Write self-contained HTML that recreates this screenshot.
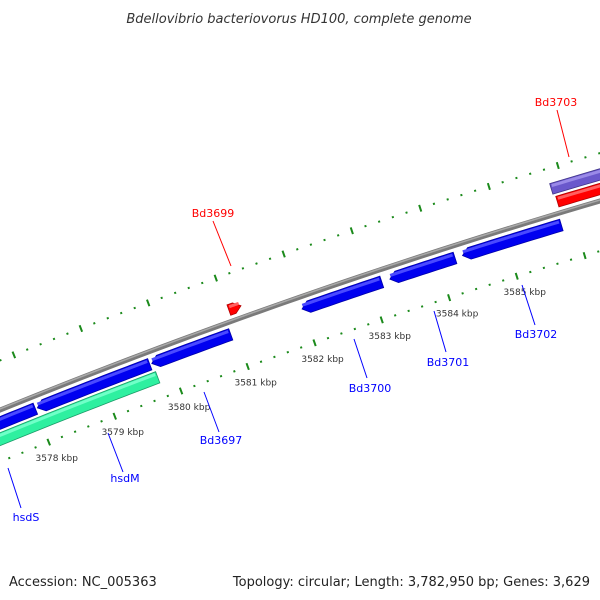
<!DOCTYPE html>
<html><head><meta charset="utf-8"><style>
html,body{margin:0;padding:0;background:#fff;}
svg{display:block;font-family:"DejaVu Sans","Liberation Sans",sans-serif;}
</style></head><body>
<svg id="map" width="600" height="600" viewBox="0 0 600 600">
<text x="299" y="23" text-anchor="middle" font-size="13" font-style="italic" fill="#333">Bdellovibrio bacteriovorus HD100, complete genome</text>
<text x="9" y="586" font-size="13" fill="#222">Accession: NC_005363</text>
<text x="590" y="586" font-size="13" fill="#222" text-anchor="end">Topology: circular; Length: 3,782,950 bp; Genes: 3,629</text>
<g id="plot"></g>
</svg>
<script>
// data (kbp)
const geneNames = ["Bd3695","hsdS","Bd3697b","Bd3697","Bd3699","Bd3700","Bd3701","Bd3702","Bd3703","Bd3703b"];
const geneStart = [3577.0,3578.03,3577.0,3579.75,3581.02,3581.99,3583.29,3584.36,3585.85,3585.82];
const geneEnd   = [3578.0,3579.72,3579.76,3580.93,3581.20,3583.17,3584.25,3585.81,3587.5,3587.5];
const geneStrand= [-1,-1,-1,-1,1,-1,-1,-1,1,1];
const geneTrack = [1,1,2,1,1,1,1,1,1,2];
const geneKind  = ["blue","blue","green","blue","red","blue","blue","blue","red","purple"];
const tickLabels = [3578,3579,3580,3581,3582,3583,3584,3585];
const labelText = ["hsdS","hsdM","Bd3697","Bd3700","Bd3701","Bd3702","Bd3699","Bd3703"];
const labelColor = ["#00f","#00f","#00f","#00f","#00f","#00f","#f00","#f00"];
const labelPos = [[26,521],[125,482],[221,444],[370,392],[448,366],[536,338],[213,217],[556,106]];
const labelLine = [[8,468,21,508],[108,433,123,472],[204,392,219,432],[354,339,367,378],[434,311,446,352],[522,285,535,325],[213,221,231,266],[557,110,569,157]];

const NS="http://www.w3.org/2000/svg";
const cx=2372.7, cy=6254.8, R0=6308;
const a0=Math.atan2(300-cy,297.4-cx), k0=3581.97, D=71.5/R0;
function pt(k,r){const a=a0+(k-k0)*D;return [cx+r*Math.cos(a), cy+r*Math.sin(a)];}
const g=document.getElementById('plot');
function mk(tag,attrs){const e=document.createElementNS(NS,tag);for(const k in attrs)e.setAttribute(k,attrs[k]);g.appendChild(e);return e;}

// backbone
function arcD(k1,k2,r){let d="";for(let i=0;i<=40;i++){const p=pt(k1+(k2-k1)*i/40,r);d+=(i?"L":"M")+p[0].toFixed(2)+" "+p[1].toFixed(2);}return d;}
let bb=mk('path',{d:arcD(3576,3588,R0),stroke:'#7a7a7a','stroke-width':5,fill:'none'});


let bb2=mk('path',{d:arcD(3576,3588,R0+1),stroke:'#a8a8a8','stroke-width':1.5,fill:'none'});



// rulers
[R0+46,R0-48].forEach((r,ri)=>{
  for(let i=0;i<=60;i++){
    const k=3576+i*0.2;
    const major=(i%5===0);
    const h=major?3.5:1;
    const p1=pt(k,r-h),p2=pt(k,r+h);
    const t=mk('line',{x1:p1[0],y1:p1[1],x2:p2[0],y2:p2[1],stroke:'#1b8a1b','stroke-width':2});
    
    
  }
});
tickLabels.forEach(k=>{
  const p=pt(k,R0-48);
  const t=mk('text',{x:p[0]+8,y:p[1]+19,'font-size':9,fill:'#333','text-anchor':'middle'});
  t.textContent=k+" kbp";
  
  
});

// genes
const fills={blue:['#0000f0','#4a4aff','#0000a8'],green:['#2ef0a0','#70ffc8','#1c9a68'],red:['#ff0000','#ff6060','#b00000'],purple:['#6a58cc','#9a8ae8','#40348a']};
function band(k1,k2,r1,r2,dir){
  const ah=0.1; let a=k1,b=k2;
  if(dir===1)b=Math.max(k1,k2-ah); if(dir===-1)a=Math.min(k2,k1+ah);
  const pts=[];
  for(let i=0;i<=12;i++)pts.push(pt(a+(b-a)*i/12,r2));
  if(dir===1)pts.push(pt(k2,(r1+r2)/2));
  for(let i=12;i>=0;i--)pts.push(pt(a+(b-a)*i/12,r1));
  if(dir===-1)pts.push(pt(k1,(r1+r2)/2));
  return "M"+pts.map(p=>p[0].toFixed(2)+" "+p[1].toFixed(2)).join("L")+"Z";
}
geneNames.forEach((n,i)=>{
  let r1,r2;
  if(geneStrand[i]<0){ if(geneTrack[i]===1){r1=R0-18;r2=R0-6;} else {r1=R0-33;r2=R0-21;} }
  else { if(geneTrack[i]===1){r1=R0+6;r2=R0+17;} else {r1=R0+20;r2=R0+31;} }
  const dir=geneEnd[i]>3587?0:(geneStart[i]<3577.5?(geneStrand[i]>0?1:0):geneStrand[i]);
  const c=fills[geneKind[i]];
  const e=mk('path',{d:band(geneStart[i],geneEnd[i],r1,r2,dir),fill:c[0],stroke:c[2],'stroke-width':0.8});
  
  
  const h=mk('path',{d:band(geneStart[i]+0.02,geneEnd[i]-0.02,r2-4,r2-1,0),fill:c[1]});
  
  
});

// labels
labelText.forEach((t,i)=>{
  const L=labelLine[i];
  const l=mk('line',{x1:L[0],y1:L[1],x2:L[2],y2:L[3],stroke:labelColor[i],'stroke-width':1});
  
  
  const e=mk('text',{x:labelPos[i][0],y:labelPos[i][1],'font-size':11,fill:labelColor[i],'text-anchor':'middle'});
  e.textContent=t;
  
  
});
</script>
</body></html>
